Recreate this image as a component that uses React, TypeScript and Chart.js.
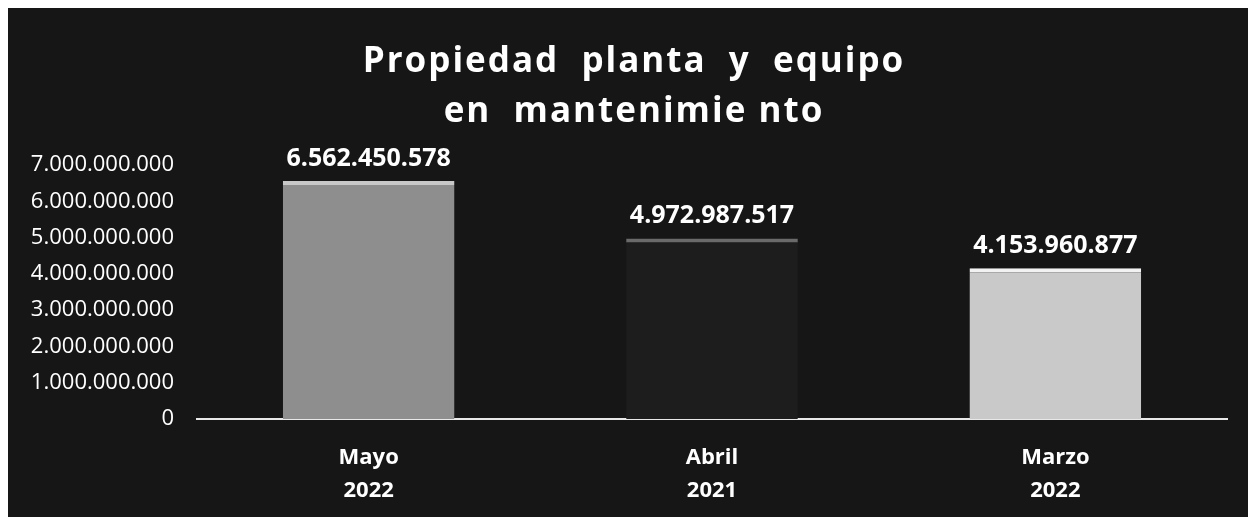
import React, { useEffect, useRef } from "react";
import { Chart, registerables } from "chart.js";

Chart.register(...registerables);

const categories: string[][] = [["Mayo", "2022"], ["Abril", "2021"], ["Marzo", "2022"]];
const values: number[] = [6562450578, 4972987517, 4153960877];
const barColors: string[] = ["#8e8e8e", "#1d1d1d", "#c9c9c9"];
const barTopColors: string[] = ["#c8c8c8", "#6a6a6a", "#f2f2f2"];
const titleLines: string[] = ["Propiedad  planta  y  equipo", "en  mantenimie nto"];
const yMax = 7000000000;
const yStep = 1000000000;

const fmt = (v: number) => Math.round(v).toString().replace(/\B(?=(\d{3})+(?!\d))/g, ".");

const bgPlugin = {
  id: "bgFill",
  beforeDraw(chart: any) {
    const ctx = chart.ctx;
    ctx.save();
    ctx.fillStyle = "#161616";
    ctx.fillRect(0, 0, chart.width, chart.height);
    ctx.restore();
  },
};

const titlePlugin = {
  id: "spacedTitle",
  afterDraw(chart: any) {
    const ctx = chart.ctx;
    ctx.save();
    ctx.fillStyle = "#ffffff";
    ctx.font = "bold 35px 'Open Sans'";
    (ctx as any).letterSpacing = "2px";
    ctx.textAlign = "center";
    ctx.textBaseline = "alphabetic";
    const cx = chart.width / 2 + 6;
    ctx.fillText(titleLines[0], cx, 64);
    ctx.fillText(titleLines[1], cx, 114);
    ctx.restore();
  },
};

const labelPlugin = {
  id: "valueLabels",
  afterDatasetsDraw(chart: any) {
    const ctx = chart.ctx;
    const meta = chart.getDatasetMeta(0);
    ctx.save();
    ctx.fillStyle = "#ffffff";
    ctx.font = "bold 25px 'Open Sans'";
    ctx.textAlign = "center";
    ctx.textBaseline = "bottom";
    meta.data.forEach((el: any, i: number) => {
      ctx.fillText(fmt(values[i]), el.x, el.y - 10);
    });
    ctx.restore();
  },
};

export default function App() {
  const ref = useRef<HTMLCanvasElement | null>(null);
  useEffect(() => {
    if (!ref.current) return;
    const chart = new Chart(ref.current, {
      type: "bar",
      data: {
        labels: categories,
        datasets: [
          {
            data: values,
            backgroundColor: barColors,
            borderColor: barTopColors,
            borderWidth: { top: 4, left: 0, right: 0, bottom: 0 } as any,
            borderSkipped: false,
            barPercentage: 0.5,
            categoryPercentage: 1,
          },
        ],
      },
      options: {
        animation: false,
        responsive: false,
        maintainAspectRatio: false,
        layout: { padding: { top: 157, right: 21, bottom: 4, left: 0 } },
        plugins: {
          legend: { display: false },
          tooltip: { enabled: false },
          title: { display: false },
        },
        scales: {
          x: {
            grid: { display: false, drawTicks: false },
            border: { display: true, color: "#e8e8e8", width: 2 },
            afterFit: (scale: any) => {
              scale.height = 94;
            },
            ticks: {
              color: "#ffffff",
              font: { family: "'Open Sans'", size: 22, weight: "bold", lineHeight: 1.5 },
              padding: 22,
            },
          },
          y: {
            min: 0,
            max: yMax,
            grid: { display: false, drawTicks: false },
            border: { display: false },
            afterFit: (scale: any) => {
              scale.width = 189;
            },
            ticks: {
              stepSize: yStep,
              color: "#ffffff",
              font: { family: "'Open Sans'", size: 22 },
              padding: 23,
              callback: (v: any) => fmt(Number(v)),
            },
          },
        },
      },
      plugins: [bgPlugin, labelPlugin, titlePlugin],
    });
    return () => chart.destroy();
  }, []);
  return (
    <div style={{ width: 1240, height: 509 }}>
      <canvas ref={ref} width={1240} height={509} style={{ display: "block" }} />
    </div>
  );
}
